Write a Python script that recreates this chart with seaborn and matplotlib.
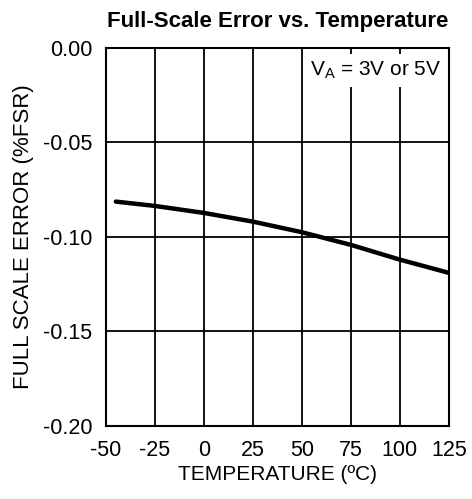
import matplotlib
matplotlib.use('Agg')
import matplotlib.pyplot as plt
import seaborn as sns
import pandas as pd

# Data
temperature = [-45, -25, 0, 25, 50, 75, 100, 125]
fs_error = [-0.0813, -0.0836, -0.0873, -0.0919, -0.0975, -0.1042, -0.1120, -0.1190]

x_ticks = [-50, -25, 0, 25, 50, 75, 100, 125]
y_ticks = [-0.20, -0.15, -0.10, -0.05, 0.00]

sns.set_style('white')
plt.rcParams['font.family'] = ['Liberation Sans', 'DejaVu Sans']
plt.rcParams['axes.unicode_minus'] = False
plt.rcParams['text.color'] = 'black'
plt.rcParams['axes.labelcolor'] = 'black'
plt.rcParams['mathtext.fontset'] = 'custom'
plt.rcParams['mathtext.rm'] = 'Liberation Sans'

df = pd.DataFrame({'Temperature': temperature, 'Error': fs_error})

fig = plt.figure(figsize=(4.72, 4.99), dpi=100)
ax = fig.add_axes([0.2246, 0.1463, 0.7264, 0.7577])

sns.lineplot(data=df, x='Temperature', y='Error', color='black', linewidth=3.2, ax=ax)

ax.set_xlim(-50, 125)
ax.set_ylim(-0.20, 0.00)
ax.set_xticks(x_ticks)
ax.set_yticks(y_ticks)
ax.set_yticklabels([f'{v:.2f}' for v in y_ticks])
ax.tick_params(axis='both', labelsize=15.5, length=0, colors='black')
ax.tick_params(axis='x', pad=10)
ax.tick_params(axis='y', pad=10)
ax.grid(True, color='black', linewidth=1.3)
ax.set_axisbelow(True)
for s in ax.spines.values():
    s.set_color('black')
    s.set_linewidth(1.5)

ax.set_xlabel('TEMPERATURE (ºC)', fontsize=15, labelpad=3)
ax.set_ylabel('FULL SCALE ERROR (%FSR)', fontsize=16, labelpad=6)
ax.set_title('Full-Scale Error vs. Temperature', fontsize=16, fontweight='bold', pad=15)

ax.text(0.978, 0.94, r'V$_\mathregular{A}$ = 3V or 5V', transform=ax.transAxes,
        ha='right', va='center', fontsize=15,
        bbox=dict(facecolor='white', edgecolor='none', pad=4))

fig.savefig('out.png', dpi=100)
